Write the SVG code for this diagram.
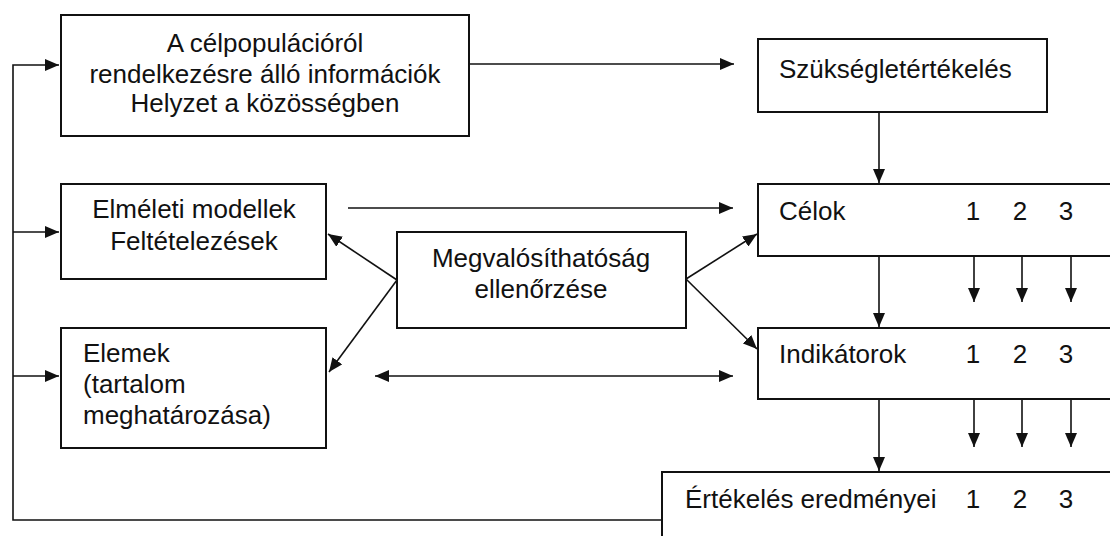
<svg xmlns="http://www.w3.org/2000/svg" width="1110" height="536" viewBox="0 0 1110 536">
<style>
.box{fill:#fff;stroke:#111;stroke-width:2}
.ln{fill:none;stroke:#111;stroke-width:1.6}
text{font-family:"Liberation Sans",Arial,sans-serif;font-size:26px;fill:#111}
.c{text-anchor:middle}
</style>
<defs>
<marker id="ah" markerUnits="userSpaceOnUse" markerWidth="15" markerHeight="12" refX="14" refY="6" orient="auto-start-reverse">
<path d="M0,0 L14,6 L0,12 z" fill="#111"/>
</marker>
</defs>
<rect width="1110" height="536" fill="#fff"/>
<g id="connectors">
<path class="ln" d="M662,520 H13 V65 H59" marker-end="url(#ah)"/>
<path class="ln" d="M13,232 H59" marker-end="url(#ah)"/>
<path class="ln" d="M13,376 H59" marker-end="url(#ah)"/>
<path class="ln" d="M469,64 H734" marker-end="url(#ah)"/>
<path class="ln" d="M879,112 V183" marker-end="url(#ah)"/>
<path class="ln" d="M348,208 H733" marker-end="url(#ah)"/>
<path class="ln" d="M375,376 H733" marker-start="url(#ah)" marker-end="url(#ah)"/>
<path class="ln" d="M397,280 L328,234" marker-end="url(#ah)"/>
<path class="ln" d="M397,280 L329,372" marker-end="url(#ah)"/>
<path class="ln" d="M686,279 L757,234" marker-end="url(#ah)"/>
<path class="ln" d="M686,279 L757,349" marker-end="url(#ah)"/>
<path class="ln" d="M879,256 V327" marker-end="url(#ah)"/>
<path class="ln" d="M879,399 V471" marker-end="url(#ah)"/>
<path class="ln" d="M974,256 V302" marker-end="url(#ah)"/>
<path class="ln" d="M1022,256 V302" marker-end="url(#ah)"/>
<path class="ln" d="M1071,256 V302" marker-end="url(#ah)"/>
<path class="ln" d="M974,399 V447" marker-end="url(#ah)"/>
<path class="ln" d="M1022,399 V447" marker-end="url(#ah)"/>
<path class="ln" d="M1071,399 V447" marker-end="url(#ah)"/>
</g>
<g id="n-celpop">
<rect class="box" x="61" y="15" width="408" height="121"/>
<text class="c" x="265" y="52">A célpopulációról</text>
<text class="c" x="265" y="83">rendelkezésre álló információk</text>
<text class="c" x="265" y="112">Helyzet a közösségben</text>
</g>
<g id="n-szukseglet">
<rect class="box" x="758" y="39" width="289" height="73"/>
<text x="779" y="78">Szükségletértékelés</text>
</g>
<g id="n-elmeleti">
<rect class="box" x="61" y="184" width="265" height="95"/>
<text class="c" x="194" y="218">Elméleti modellek</text>
<text class="c" x="194" y="250">Feltételezések</text>
</g>
<g id="n-elemek">
<rect class="box" x="61" y="328" width="265" height="120"/>
<text x="83" y="362">Elemek</text>
<text x="83" y="393">(tartalom</text>
<text x="83" y="424">meghatározása)</text>
</g>
<g id="n-megval">
<rect class="box" x="397" y="232" width="289" height="96"/>
<text class="c" x="541" y="267">Megvalósíthatóság</text>
<text class="c" x="541" y="298">ellenőrzése</text>
</g>
<g id="n-celok">
<path class="box" d="M1112,184 H758 V256 H1112"/>
<text x="779" y="220">Célok</text>
<text class="c" x="973" y="220">1</text>
<text class="c" x="1020" y="220">2</text>
<text class="c" x="1066" y="220">3</text>
</g>
<g id="n-indikatorok">
<path class="box" d="M1112,328 H758 V399 H1112"/>
<text x="779" y="363">Indikátorok</text>
<text class="c" x="973" y="363">1</text>
<text class="c" x="1020" y="363">2</text>
<text class="c" x="1066" y="363">3</text>
</g>
<g id="n-ertekeles">
<path class="box" d="M1112,472 H662 V540"/>
<text x="685" y="508">Értékelés eredményei</text>
<text class="c" x="973" y="508">1</text>
<text class="c" x="1020" y="508">2</text>
<text class="c" x="1066" y="508">3</text>
</g>
</svg>
